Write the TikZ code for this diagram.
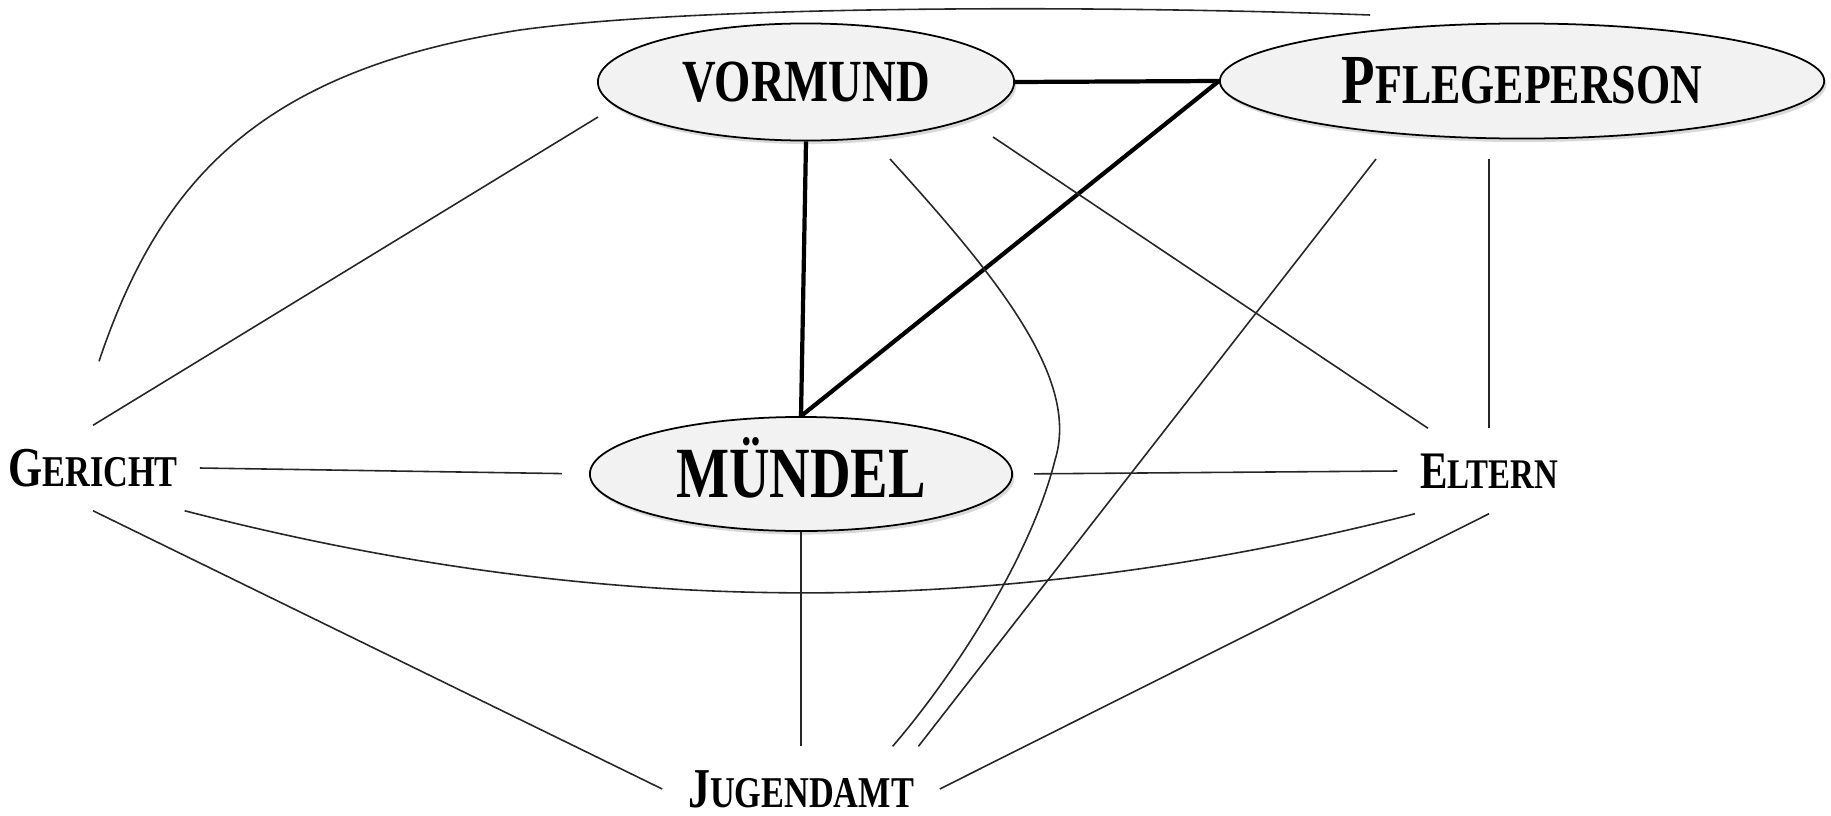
\documentclass[tikz,border=0pt]{standalone}
\usepackage{fontspec}
\newfontfamily\lblfont{Liberation Serif}[FakeStretch=0.78]
\usetikzlibrary{shapes.geometric,shadows}
\newcommand{\capword}[4]{{\fontsize{#1}{#1}\selectfont #3}{\fontsize{#2}{#2}\selectfont #4}}
\tikzset{
  person/.style={ellipse, draw=black, line width=0.5pt, fill=black!5, inner sep=0pt,
    font=\lblfont\bfseries,
    drop shadow={shadow xshift=0.6pt, shadow yshift=-1pt, opacity=0.3}},
  party/.style={inner sep=0pt, minimum height=0.84cm, font=\lblfont\bfseries},
  conn/.style={line width=0.45pt, black!85},
  bond/.style={line width=1.2pt, black},
}
\begin{document}
\begin{tikzpicture}[x=0.01cm, y=-0.01cm]
        \useasboundingbox (0,0) rectangle (1831,815);
        %% people
        \node[person, minimum width=4.16cm, minimum height=1.17cm] (vor) at (806,82)
          {\capword{17}{17}{VORMUND}{}};
        \node[person, minimum width=6.04cm, minimum height=1.15cm] (pfl) at (1522,81)
          {\capword{20}{16}{P}{FLEGEPERSON}};
        \node[person, minimum width=4.22cm, minimum height=1.14cm,
          text height=0.47cm, text depth=0pt] (mue) at (801,474)
          {\capword{20.5}{20.5}{MÜNDEL}{}};
        %% parties
        \node[party, minimum width=2.12cm] (ger) at (93,468) {\capword{16}{12.5}{G}{ERICHT}};
        \node[party, minimum width=1.82cm] (elt) at (1489,471) {\capword{15}{12}{E}{LTERN}};
        \node[party, minimum width=2.76cm] (jug) at (801,789) {\capword{16}{12.5}{J}{UGENDAMT}};
        %% strong ties
        \draw[bond] (vor.east) -- (pfl.west);
        \draw[bond] (vor.south) -- (mue.north);
        \draw[bond] (pfl.west) -- (mue.north);
        %% other ties
        \draw[conn] (ger.north) -- ([shift={(-208,35)}]vor.center);
        \draw[conn, shorten >=0.27cm] (ger.east) -- (mue.west);
        \draw[conn] (ger.-25) .. controls +(417,108) and +(-419,107) .. (elt.210);
        \draw[conn] (ger.south) -- (jug.west);
        \draw[conn] ([shift={(6,-64)}]ger.north) .. controls (160,180) and (260,70) .. (520,30)
          .. controls (700,5) and (1100,5) .. ([shift={(-152,-66)}]pfl.center);
        \draw[conn] ([shift={(84,77)}]vor.center) .. controls (1000,280) and (1080,380) .. (1055,460)
          .. controls (1030,560) and (950,680) .. (jug.25);
        \draw[conn] ([shift={(187,55)}]vor.center) -- (elt.145);
        \draw[conn] ([shift={(-146,78)}]pfl.center) -- (jug.20);
        \draw[conn] ([shift={(-33,78)}]pfl.center) -- (elt.north);
        \draw[conn, shorten <=0.21cm] (mue.east) -- (elt.west);
        \draw[conn] (mue.south) -- (jug.north);
        \draw[conn] (elt.south) -- (jug.east);
\end{tikzpicture}
\end{document}
